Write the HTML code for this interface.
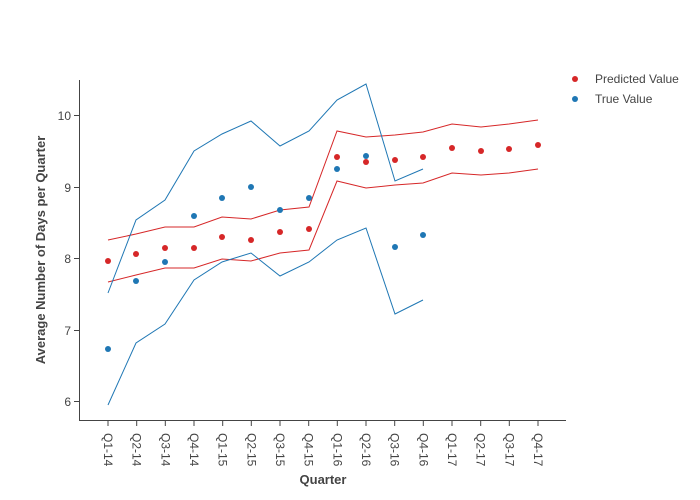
<!DOCTYPE html>
<html><head><style>
body{margin:0;background:#fff;}
svg{display:block;font-family:"Liberation Sans",sans-serif;}
</style></head><body>
<svg width="700" height="500" viewBox="0 0 700 500">
<g stroke="#444" stroke-width="1" fill="none">
<line x1="79.5" y1="80" x2="79.5" y2="420"/>
<line x1="79" y1="420.5" x2="566" y2="420.5"/>
<line x1="74" y1="115.5" x2="79" y2="115.5"/>
<line x1="74" y1="187.5" x2="79" y2="187.5"/>
<line x1="74" y1="258.5" x2="79" y2="258.5"/>
<line x1="74" y1="330.5" x2="79" y2="330.5"/>
<line x1="74" y1="401.5" x2="79" y2="401.5"/>
</g>
<g font-size="12" fill="#444" text-anchor="end">
<text x="71" y="120">10</text><text x="71" y="192">9</text><text x="71" y="263">8</text><text x="71" y="335">7</text><text x="71" y="406">6</text>
</g>
<g id="xt" font-size="12" fill="#444"></g>
<text x="323" y="484" font-size="13" font-weight="bold" fill="#444" text-anchor="middle">Quarter</text>
<text transform="translate(45,250) rotate(-90)" font-size="13" font-weight="bold" fill="#444" text-anchor="middle">Average Number of Days per Quarter</text>
<g fill="none" stroke-width="1">
<polyline stroke="#d62728" points="108,240 136,234 165,227 194,227 222,217 251,219 280,210 309,207 337,131 366,137 395,135 423,132 452,124 481,127 509,124 538,120"/>
<polyline stroke="#d62728" points="108,282 136,275 165,268 194,268 222,259 251,261 280,253 309,250 337,181 366,188 395,185 423,183 452,173 481,175 509,173 538,169"/>
<polyline stroke="#1f77b4" points="108,293 136,220 165,200 194,151 222,134 251,121 280,146 309,131 337,100 366,84 395,181 423,169"/>
<polyline stroke="#1f77b4" points="108,405 136,343 165,324 194,280 222,262 251,253 280,276 309,262 337,240 366,228 395,314 423,300"/>
</g>
<g fill="#d62728">
<circle cx="108" cy="261" r="3"/><circle cx="136" cy="254" r="3"/><circle cx="165" cy="248" r="3"/><circle cx="194" cy="248" r="3"/><circle cx="222" cy="237" r="3"/><circle cx="251" cy="240" r="3"/><circle cx="280" cy="232" r="3"/><circle cx="309" cy="229" r="3"/><circle cx="337" cy="157" r="3"/><circle cx="366" cy="162" r="3"/><circle cx="395" cy="160" r="3"/><circle cx="423" cy="157" r="3"/><circle cx="452" cy="148" r="3"/><circle cx="481" cy="151" r="3"/><circle cx="509" cy="149" r="3"/><circle cx="538" cy="145" r="3"/>
</g>
<g fill="#1f77b4">
<circle cx="108" cy="349" r="3"/><circle cx="136" cy="281" r="3"/><circle cx="165" cy="262" r="3"/><circle cx="194" cy="216" r="3"/><circle cx="222" cy="198" r="3"/><circle cx="251" cy="187" r="3"/><circle cx="280" cy="210" r="3"/><circle cx="309" cy="198" r="3"/><circle cx="337" cy="169" r="3"/><circle cx="366" cy="156" r="3"/><circle cx="395" cy="247" r="3"/><circle cx="423" cy="235" r="3"/>
</g>
<circle cx="575" cy="79" r="3" fill="#d62728"/>
<circle cx="575" cy="99" r="3" fill="#1f77b4"/>
<g font-size="12" fill="#444">
<text x="595" y="83">Predicted Value</text>
<text x="595" y="103">True Value</text>
</g>
<g stroke="#444">
<line x1="108" y1="421" x2="108" y2="426"/><line x1="136.7" y1="421" x2="136.7" y2="426"/><line x1="165.3" y1="421" x2="165.3" y2="426"/><line x1="194" y1="421" x2="194" y2="426"/><line x1="222.7" y1="421" x2="222.7" y2="426"/><line x1="251.3" y1="421" x2="251.3" y2="426"/><line x1="280" y1="421" x2="280" y2="426"/><line x1="308.7" y1="421" x2="308.7" y2="426"/><line x1="337.3" y1="421" x2="337.3" y2="426"/><line x1="366" y1="421" x2="366" y2="426"/><line x1="394.7" y1="421" x2="394.7" y2="426"/><line x1="423.3" y1="421" x2="423.3" y2="426"/><line x1="452" y1="421" x2="452" y2="426"/><line x1="480.7" y1="421" x2="480.7" y2="426"/><line x1="509.3" y1="421" x2="509.3" y2="426"/><line x1="538" y1="421" x2="538" y2="426"/>
</g>
<g font-size="12" fill="#444">
<text transform="translate(104,433) rotate(90)">Q1-14</text>
<text transform="translate(132.7,433) rotate(90)">Q2-14</text>
<text transform="translate(161.3,433) rotate(90)">Q3-14</text>
<text transform="translate(190,433) rotate(90)">Q4-14</text>
<text transform="translate(218.7,433) rotate(90)">Q1-15</text>
<text transform="translate(247.3,433) rotate(90)">Q2-15</text>
<text transform="translate(276,433) rotate(90)">Q3-15</text>
<text transform="translate(304.7,433) rotate(90)">Q4-15</text>
<text transform="translate(333.3,433) rotate(90)">Q1-16</text>
<text transform="translate(362,433) rotate(90)">Q2-16</text>
<text transform="translate(390.7,433) rotate(90)">Q3-16</text>
<text transform="translate(419.3,433) rotate(90)">Q4-16</text>
<text transform="translate(448,433) rotate(90)">Q1-17</text>
<text transform="translate(476.7,433) rotate(90)">Q2-17</text>
<text transform="translate(505.3,433) rotate(90)">Q3-17</text>
<text transform="translate(534,433) rotate(90)">Q4-17</text>
</g>
</svg>
</body></html>
